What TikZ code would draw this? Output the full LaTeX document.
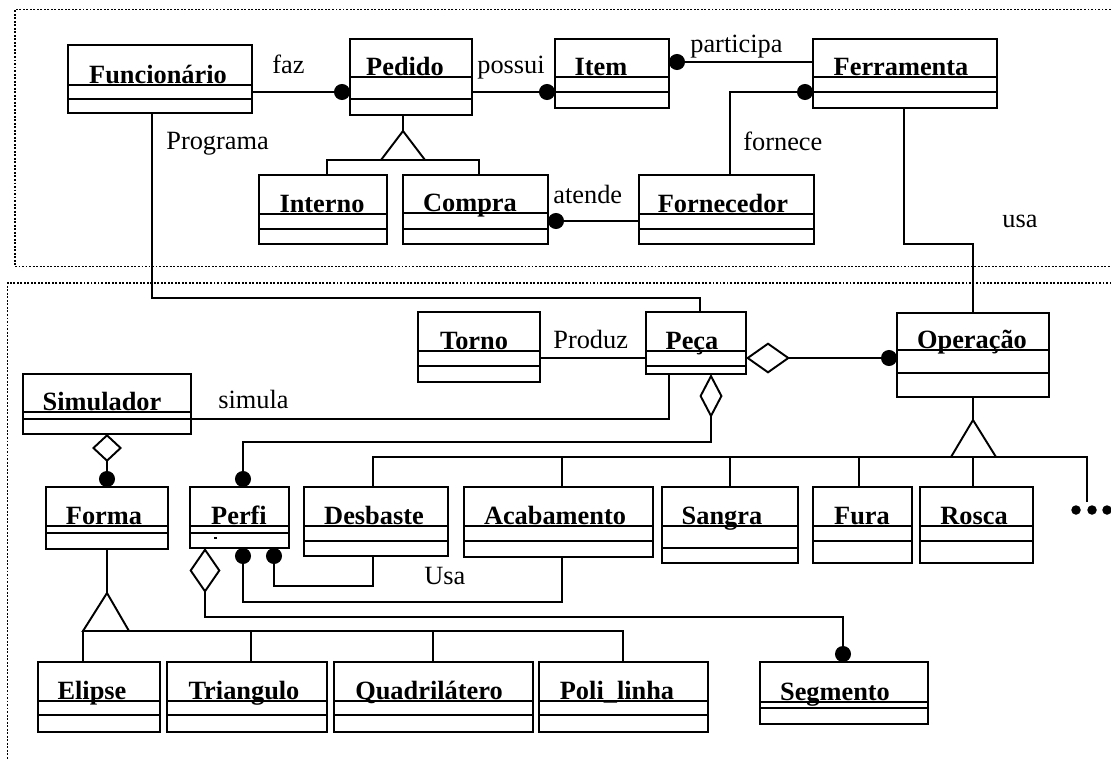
\documentclass[tikz,border=0pt]{standalone}
\usepackage{fontspec}
\setmainfont{Liberation Serif}
\usetikzlibrary{fit,arrows.meta}

% UML class box: name, x1, y1, x2, y2, first divider, second divider, title, title centre
\newcommand\umlclass[9]{%
  \node[clsbox,fit={(#2,#3) (#4,#5)}] (#1) {};
  \draw[clsline] (#2,#6) -- (#4,#6) (#2,#7) -- (#4,#7);
  \node[ttl] (#1-title) at (#9,#6-2) {#8};
}

\begin{document}
\begin{tikzpicture}[x=0.02cm,y=-0.02cm,
  every node/.style={font=\fontsize{15}{18}\selectfont},
  clsbox/.style={draw,line width=1.1pt,inner sep=0pt,outer sep=0pt},
  clsline/.style={line width=1.1pt},
  ttl/.style={font=\fontsize{15}{18}\selectfont\bfseries,anchor=base,inner sep=0pt},
  lbl/.style={anchor=base west,inner sep=0pt},
  conn/.style={line width=1.1pt},
  frame/.style={draw,line width=1.1pt,dash pattern=on 1.1pt off 0.9pt,inner sep=0pt,outer sep=0pt},
  ballend/.style={conn,arrows={-{Circle[length=0.32cm]}}},
  ballstart/.style={conn,arrows={{Circle[length=0.32cm]}-}},
  aggball/.style 2 args={conn,arrows={{Diamond[open,length=#1,width=#2]}-{Circle[length=0.32cm]}}},
  moredot/.style={circle,fill,inner sep=0pt,minimum size=0.19cm}
]
\useasboundingbox (0,0) rectangle (1111,758);
\clip (0,0) rectangle (1111,758);

% package frames
\node[frame,fit={(15,9.5) (1130,266.5)}] (upper) {};
\node[frame,fit={(7.5,283) (1130,790)}] (lower) {};

% classes
\umlclass{func}{68}{45}{252}{113}{85}{99}{Funcionário}{158}
\umlclass{ped}{350}{39}{472}{115}{77}{99}{Pedido}{405}
\umlclass{item}{555}{39}{669}{108}{77}{92}{Item}{601}
\umlclass{ferr}{813}{39}{997}{108}{77}{92}{Ferramenta}{901}
\umlclass{inter}{259}{175}{387}{244}{214}{229}{Interno}{322}
\umlclass{compra}{403}{175}{548}{244}{213}{229}{Compra}{470}
\umlclass{forn}{639}{175}{814}{244}{214}{229}{Fornecedor}{723}
\umlclass{torno}{418}{312}{540}{382}{351}{366}{Torno}{474}
\umlclass{peca}{646}{312}{746}{374}{351}{366}{Peça}{692}
\umlclass{oper}{897}{313}{1049}{397}{350}{373}{Operação}{972}
\umlclass{sim}{23}{374}{191}{434}{412}{419}{Simulador}{102}
\umlclass{forma}{46}{487}{168}{549}{526}{533}{Forma}{104}
\umlclass{perfi}{190}{487}{289}{548}{526}{533}{Perfi}{239}
\umlclass{desb}{304}{487}{448}{556}{526}{541}{Desbaste}{374}
\umlclass{acab}{464}{487}{653}{557}{526}{541}{Acabamento}{555}
\umlclass{sang}{662}{487}{798}{563}{526}{548}{Sangra}{722}
\umlclass{fura}{813}{487}{912}{563}{526}{541}{Fura}{862}
\umlclass{rosca}{920}{487}{1033}{563}{526}{541}{Rosca}{974}
\umlclass{elip}{38}{662}{160}{732}{701}{715}{Elipse}{92}
\umlclass{tri}{167}{662}{327}{732}{701}{715}{Triangulo}{244}
\umlclass{quad}{334}{662}{533}{732}{701}{715}{Quadrilátero}{429}
\umlclass{poli}{539}{662}{708}{732}{701}{715}{Poli\_linha}{617}
\umlclass{seg}{760}{662}{928}{724}{702}{708}{Segmento}{835}

% stray mark under the Perfi title
\fill (213.5,536.5) rectangle (216.5,539);

% associations
\draw[ballend] (func.east |- 0,92) -- (ped.west |- 0,92);
\draw[ballend] (ped.east |- 0,92) -- (item.west |- 0,92);
\draw[ballstart] (item.east |- 0,62) -- (ferr.west |- 0,62);
\draw[ballstart] (ferr.west |- 0,92) -| (forn.north -| 730,0);
\draw[ballstart] (compra.east |- 0,221) -- (forn.west |- 0,221);
\draw[conn] (func.south -| 152,0) |- (700,298) -- (peca.north -| 700,0);
\draw[conn] (ferr.south -| 904,0) |- (973,244) -- (oper.north);
\draw[conn] (torno.east |- 0,358) -- (peca.west |- 0,358);
\draw[aggball={0.88cm}{0.62cm}] (peca.east |- 0,358) -- (oper.west |- 0,358);
\draw[conn] (sim.east |- 0,419) -| (peca.south -| 669,0);
\draw[aggball={0.88cm}{0.46cm}] (peca.south -| 711,0) |- (243,442) -- (perfi.north -| 243,0);
\draw[ballstart] (perfi.south -| 243,0) |- (562,602) -- (acab.south -| 562,0);
\draw[ballstart] (perfi.south -| 274,0) |- (373,586) -- (desb.south -| 373,0);
\draw[aggball={0.9cm}{0.62cm}] (perfi.south -| 205,0) |- (843,617) -- (seg.north -| 843,0);
\draw[aggball={0.56cm}{0.6cm}] (sim.south) -- (forma.north);

% generalizations: stem, open triangle, bar to the subclasses
\draw[conn] (ped.south -| 403,0) -- (403,131);
\draw[conn] (403,131) -- (381,160) -- (425,160) -- cycle;
\draw[conn] (inter.north -| 327,0) |- (479,160) -- (compra.north -| 479,0);

\draw[conn] (oper.south) -- (973,420);
\draw[conn] (973,420) -- (951,457) -- (996,457) -- cycle;
\coordinate (more) at (1087,502);
\draw[conn] (desb.north -| 373,0) |- (1087,457) -- (more);
\draw[conn] (acab.north -| 562,0) -- (562,457);
\draw[conn] (sang.north -| 730,0) -- (730,457);
\draw[conn] (fura.north -| 859,0) -- (859,457);
\draw[conn] (rosca.north -| 973,0) -- (973,457);
\node[moredot] (more1) at (1076,510) {};
\node[moredot] (more2) at (1092,510) {};
\node[moredot] (more3) at (1107,510) {};

\draw[conn] (forma.south) -- (107,593);
\draw[conn] (107,593) -- (83,631) -- (129,631) -- cycle;
\draw[conn] (elip.north -| 83,0) |- (623,631) -- (poli.north -| 623,0);
\draw[conn] (tri.north -| 251,0) -- (251,631);
\draw[conn] (quad.north -| 433,0) -- (433,631);

% association labels
\node[lbl] (l-faz) at (272,73) {faz};
\node[lbl] (l-possui) at (477,73.5) {possui};
\node[lbl] (l-participa) at (690,52.5) {participa};
\node[lbl] (l-programa) at (166,149) {Programa};
\node[lbl] (l-fornece) at (743,150.5) {fornece};
\node[lbl] (l-atende) at (553,203) {atende};
\node[lbl] (l-usa) at (1002,227) {usa};
\node[lbl] (l-produz) at (553,348) {Produz};
\node[lbl] (l-simula) at (218,408) {simula};
\node[lbl] (l-usa2) at (424,584) {Usa};
\end{tikzpicture}
\end{document}
